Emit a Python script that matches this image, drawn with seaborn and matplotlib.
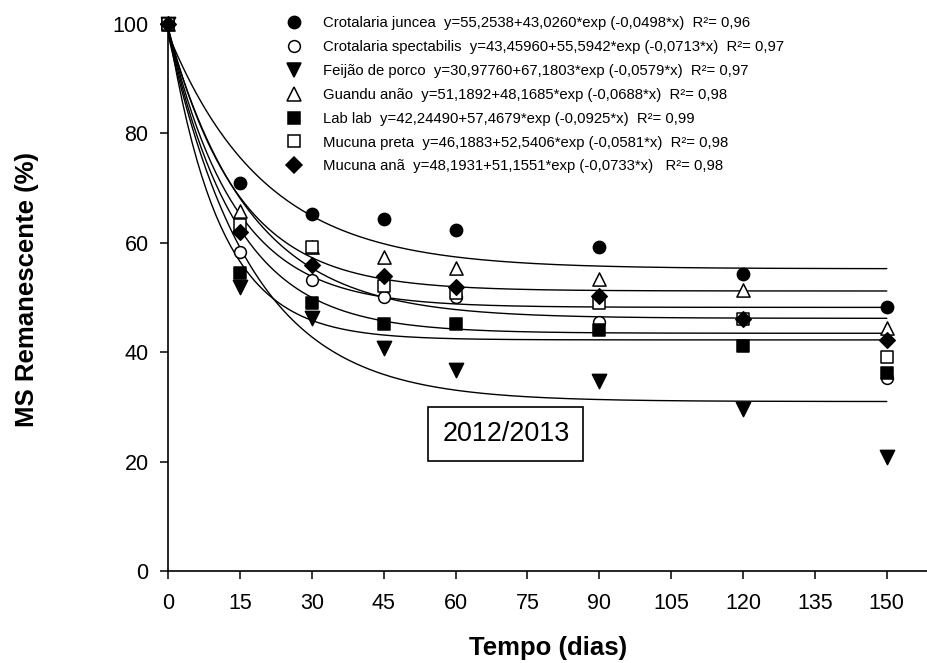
import numpy as np
import pandas as pd
import matplotlib
matplotlib.use("Agg")
import matplotlib.pyplot as plt
from matplotlib.lines import Line2D
import seaborn as sns

# dias de coleta
days = [0, 15, 30, 45, 60, 90, 120, 150]

# MS remanescente (%) por espécie
juncea = [100, 70.9, 65.3, 64.3, 62.3, 59.2, 54.3, 48.3]
spectabilis = [100, 58.3, 53.2, 50.1, 50.1, 45.5, 46.1, 35.3]
feijao = [100, 52.0, 46.3, 40.8, 36.7, 34.7, 29.6, 20.8]
guandu = [100, 65.8, 59.2, 57.4, 55.4, 53.4, 51.4, 44.4]
lablab = [100, 54.5, 49.0, 45.2, 45.2, 44.1, 41.1, 36.2]
preta = [100, 63.3, 59.2, 52.1, 50.8, 49.0, 46.1, 39.1]
ana = [100, 62.0, 56.0, 54.0, 52.0, 50.3, 46.1, 42.2]

species = ["Crotalaria juncea", "Crotalaria spectabilis", "Feijão de porco",
           "Guandu anão", "Lab lab", "Mucuna preta", "Mucuna anã"]
values = [juncea, spectabilis, feijao, guandu, lablab, preta, ana]

# coeficientes das curvas ajustadas y = a + b*exp(-c*x)
coef_a = [55.2538, 43.45960, 30.97760, 51.1892, 42.24490, 46.1883, 48.1931]
coef_b = [43.0260, 55.5942, 67.1803, 48.1685, 57.4679, 52.5406, 51.1551]
coef_c = [0.0498, 0.0713, 0.0579, 0.0688, 0.0925, 0.0581, 0.0733]
equations = [
    "y=55,2538+43,0260*exp (-0,0498*x)  R²= 0,96",
    "y=43,45960+55,5942*exp (-0,0713*x)  R²= 0,97",
    "y=30,97760+67,1803*exp (-0,0579*x)  R²= 0,97",
    "y=51,1892+48,1685*exp (-0,0688*x)  R²= 0,98",
    "y=42,24490+57,4679*exp (-0,0925*x)  R²= 0,99",
    "y=46,1883+52,5406*exp (-0,0581*x)  R²= 0,98",
    "y=48,1931+51,1551*exp (-0,0733*x)   R²= 0,98",
]

markers = ["o", "o", "v", "^", "s", "s", "D"]
filled = [True, False, True, False, True, False, True]
msizes = [78, 72, 105, 90, 80, 75, 62]

x_ticks = [0, 15, 30, 45, 60, 75, 90, 105, 120, 135, 150]
y_ticks = [0, 20, 40, 60, 80, 100]

sns.set_style("ticks")
plt.rcParams["font.family"] = ["Liberation Sans", "DejaVu Sans"]
plt.rcParams.update({"text.color": "black", "axes.labelcolor": "black",
                     "xtick.color": "black", "ytick.color": "black"})

fig = plt.figure(figsize=(9.28, 6.63), dpi=100)
ax = fig.add_axes([168 / 928, 92 / 663, 760 / 928, 547 / 663])

xs = np.linspace(0, 150, 301)
for i, sp in enumerate(species):
    curve = pd.DataFrame({"x": xs, "y": coef_a[i] + coef_b[i] * np.exp(-coef_c[i] * xs)})
    sns.lineplot(data=curve, x="x", y="y", ax=ax, color="black", lw=1.0, zorder=2)

handles = []
for i, sp in enumerate(species):
    pts = pd.DataFrame({"dias": days, "ms": values[i]})
    face = "black" if filled[i] else "white"
    sns.scatterplot(data=pts, x="dias", y="ms", ax=ax, marker=markers[i], s=msizes[i],
                    facecolor=face, edgecolor="black", linewidth=1.1, zorder=3 + i,
                    clip_on=False)
    handles.append(Line2D([], [], ls="none", marker=markers[i], markersize=np.sqrt(msizes[i]),
                          markerfacecolor=face, markeredgecolor="black", markeredgewidth=1.1))

labels = [f"{sp}  {eq}" for sp, eq in zip(species, equations)]
fig.legend(handles, labels, loc="upper left", bbox_to_anchor=(287 / 928, 1 - 16.5 / 663),
           bbox_transform=fig.transFigure, frameon=False, fontsize=10.7,
           handlelength=0.95, handletextpad=1.45, borderpad=0, borderaxespad=0,
           labelspacing=0.66)

ax.text(70.5, 25, "2012/2013", fontsize=19.4, ha="center", va="center",
        bbox=dict(boxstyle="square,pad=0.52", facecolor="white", edgecolor="black", lw=1.2))

ax.set_xlim(0, 158.6)
ax.set_ylim(0, 100)
ax.set_xticks(x_ticks)
ax.set_yticks(y_ticks)
ax.tick_params(labelsize=15.5, length=6, width=1.1)
ax.tick_params(axis="x", pad=9.5)
ax.tick_params(axis="y", pad=8)
for s in ["top", "right"]:
    ax.spines[s].set_visible(False)
for s in ["left", "bottom"]:
    ax.spines[s].set_linewidth(1.2)
    ax.spines[s].set_color("black")

ax.set_xlabel("Tempo (dias)", fontsize=18.5, fontweight="bold", labelpad=16)
ax.set_ylabel("MS Remanescente (%)", fontsize=18.5, fontweight="bold")
ax.yaxis.set_label_coords(-0.170, 0.515)

fig.savefig("out.png", dpi=100)
